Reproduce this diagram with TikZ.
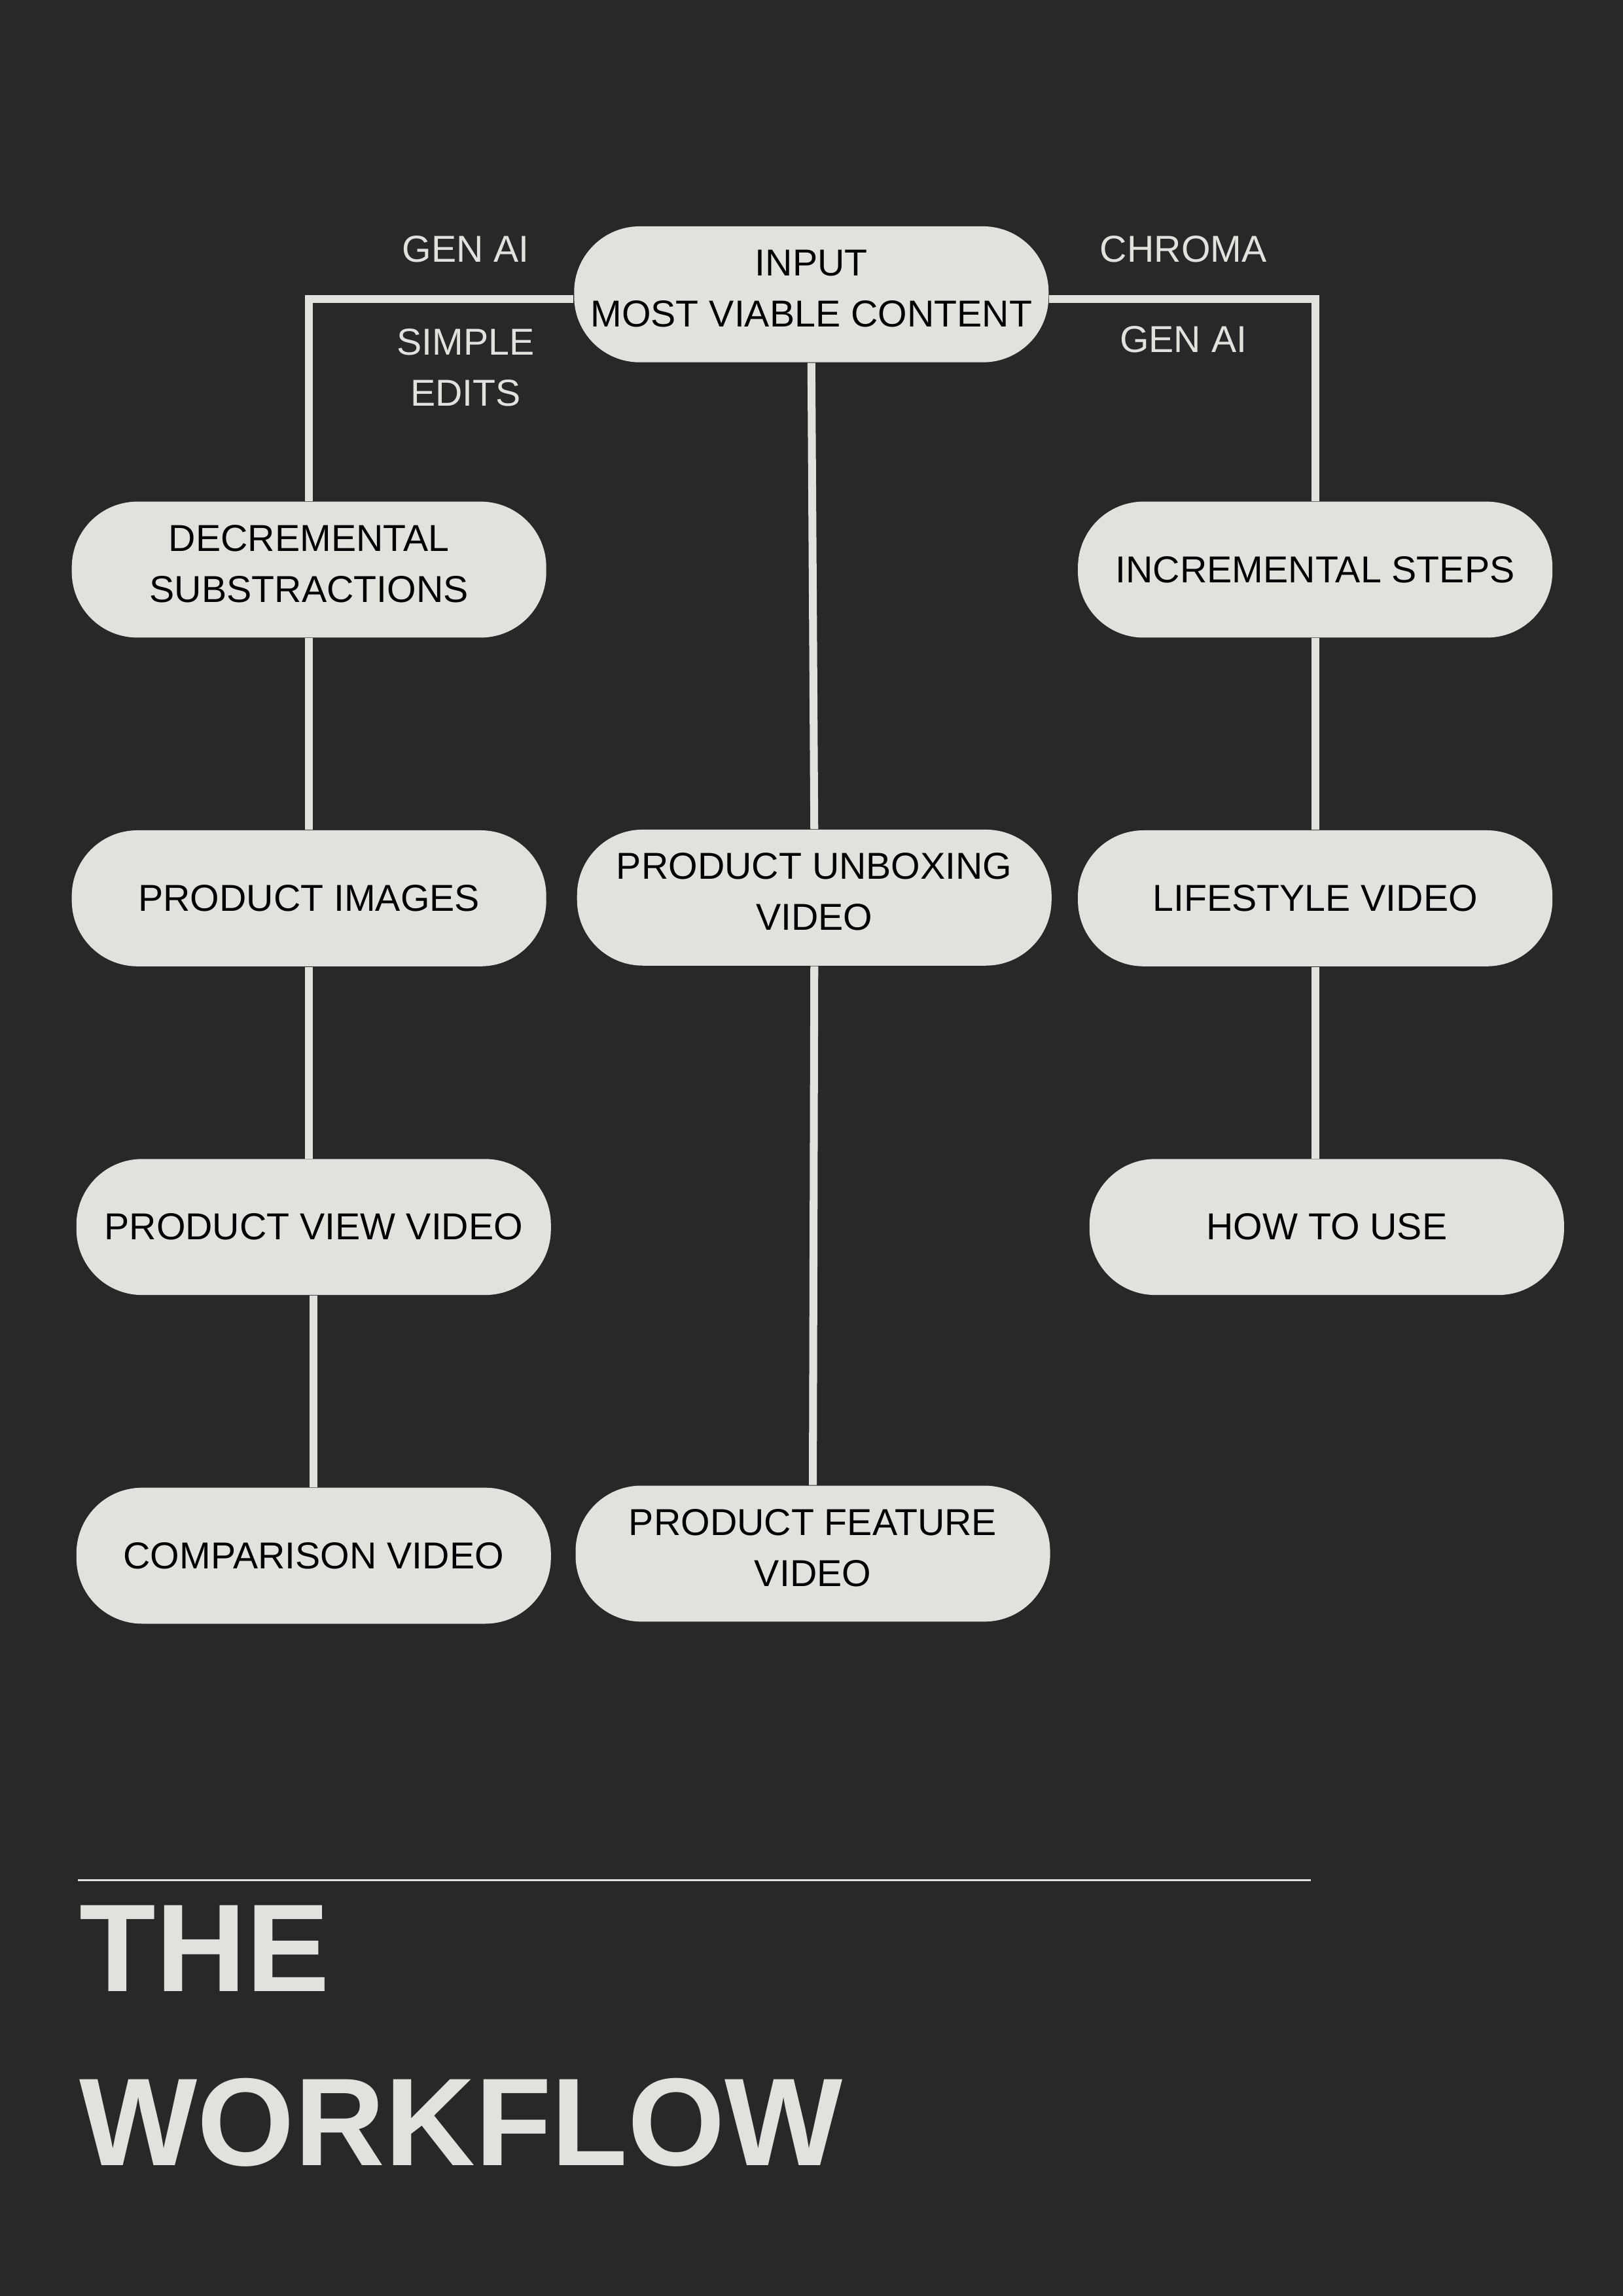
\documentclass[tikz,border=0pt]{standalone}
\usepackage{fontspec}
\setmainfont{Liberation Sans}
\usetikzlibrary{positioning}
\definecolor{bgdark}{HTML}{282828}
\definecolor{boxgray}{HTML}{E2E1DD}

\begin{document}
\begin{tikzpicture}[x=0.018953cm,y=-0.018953cm,node distance=2.48cm,
    stepbox/.style={fill=boxgray,rounded corners=0.85cm,minimum width=6.14cm,minimum height=1.76cm,
        inner sep=0pt,align=center,text=black,font=\fontsize{13.8}{18.8}\selectfont},
    twoline/.style={text depth=4.5pt},
    link/.style={draw=boxgray,line width=2.9pt},
    tag/.style={text=boxgray,align=center,font=\fontsize{13.8}{18.8}\selectfont},
    headline/.style={anchor=base west,inner sep=0pt,text=boxgray,font=\fontsize{46}{46}\selectfont\bfseries}]
    \fill[bgdark] (0,0) rectangle (1108,1568);
    \useasboundingbox (0,0) rectangle (1108,1568);

    % boxes
    \node[stepbox,twoline] (input) at (554,201) {INPUT\\MOST VIABLE CONTENT};
    \node[stepbox,twoline] (decr) at (211,389) {DECREMENTAL\\SUBSTRACTIONS};
    \node[stepbox] (incr) at (898,389) {INCREMENTAL STEPS};
    \node[stepbox] (images) [below=of decr] {PRODUCT IMAGES};
    \node[stepbox] (view) [below=of images, xshift=0.06cm] {PRODUCT VIEW VIDEO};
    \node[stepbox] (compare) [below=of view] {COMPARISON VIDEO};
    \node[stepbox,twoline] (unbox) at (556,613) {PRODUCT UNBOXING\\VIDEO};
    \node[stepbox,twoline] (feature) at (555,1061) {PRODUCT FEATURE\\VIDEO};
    \node[stepbox] (life) [below=of incr] {LIFESTYLE VIDEO};
    \node[stepbox] (howto) [below=of life, xshift=0.15cm] {HOW TO USE};

    % labels on the branches
    \node[tag] (genleft) at (318,170) {GEN AI};
    \node[tag] (edits) at (318,251) {SIMPLE\\EDITS};
    \node[tag] (chroma) at (808,170) {CHROMA};
    \node[tag] (genright) at (808,232) {GEN AI};

    % connectors
    \draw[link] ([yshift=-0.057cm]input.west) -| (decr.north);
    \draw[link] ([yshift=-0.057cm]input.east) -| (incr.north);
    \draw[link] (input.south) -- (unbox.north);
    \draw[link] (decr.south) -- (images.north);
    \draw[link] (images.south) -- (images.south |- view.north);
    \draw[link] (view.south) -- (compare.north);
    \draw[link] (unbox.south) -- (feature.north);
    \draw[link] (incr.south) -- (life.north);
    \draw[link] (life.south) -- (life.south |- howto.north);

    % title
    \coordinate (rulestart) at (53,1284);
    \coordinate (ruleend) at (895,1284);
    \draw[boxgray,line width=0.7pt] (rulestart) -- (ruleend);
    \node[headline] (titlethe) at (54,1360) {THE};
    \node[headline] (titleflow) at (54,1479) {WORKFLOW};
\end{tikzpicture}
\end{document}
